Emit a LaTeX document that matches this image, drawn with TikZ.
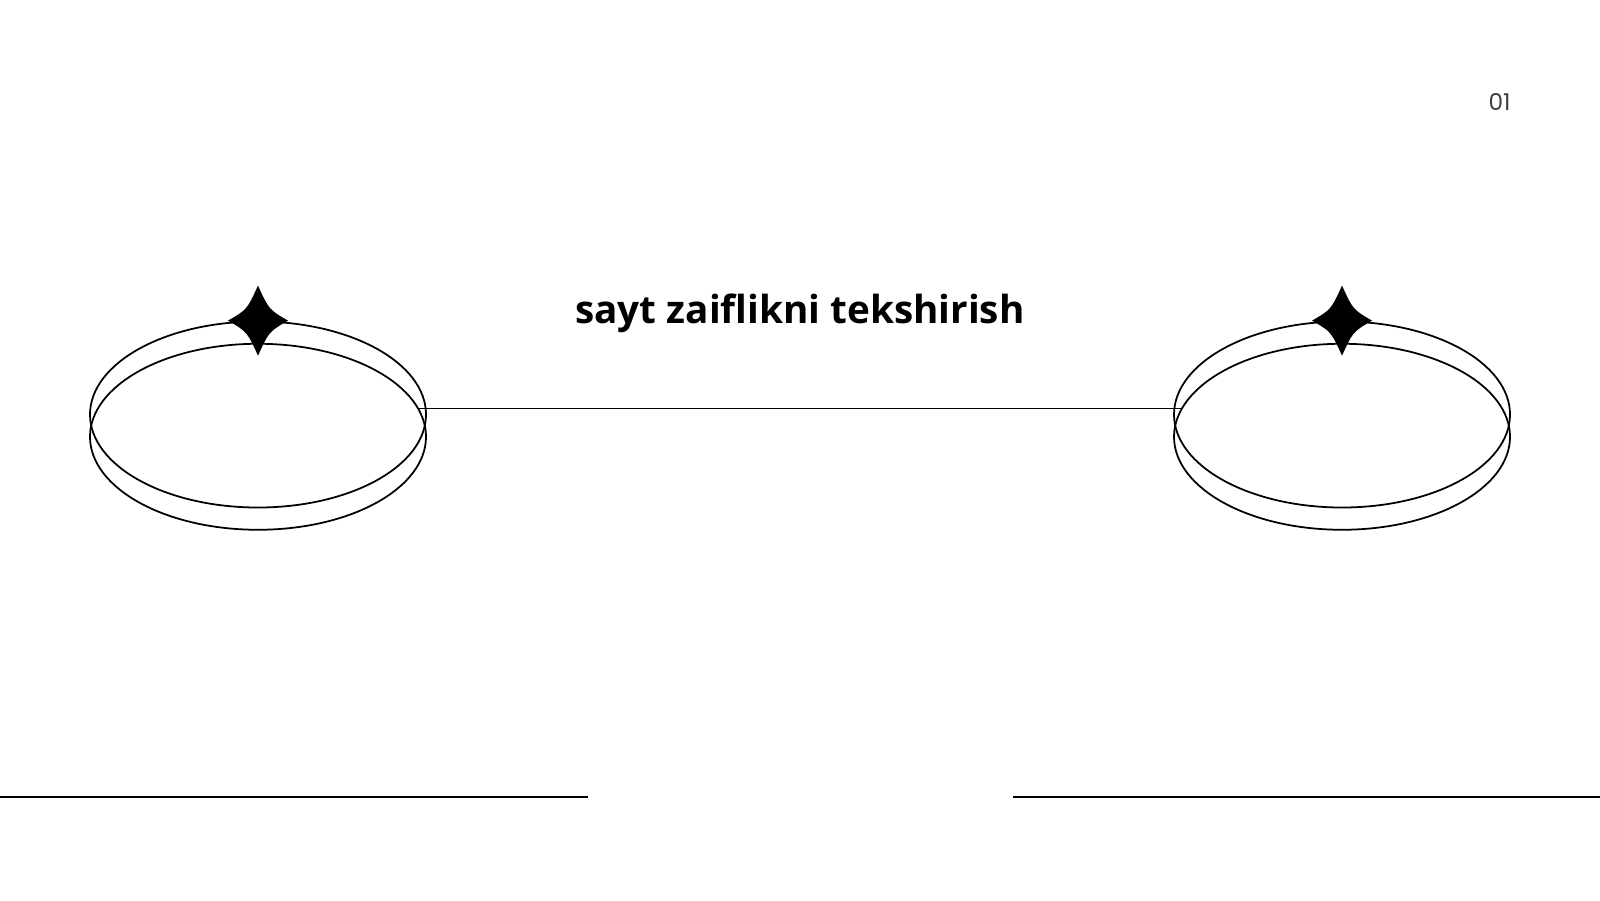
\documentclass[tikz,border=0pt]{standalone}
\usepackage{fontspec}
\setmainfont{Open Sans}
\newfontfamily\numfont{Poppins}
\usetikzlibrary{shapes.geometric,positioning}

\begin{document}
\begin{tikzpicture}[line width=0.5pt,
                ring/.style={ellipse,draw,inner sep=0pt,minimum width=3.36cm,minimum height=1.86cm},
                sparkle/.pic={\fill (0,0.35) .. controls (0.11,0.11) .. (0.30,0)
                                 .. controls (0.11,-0.11) .. (0,-0.35)
                                 .. controls (-0.11,-0.11) .. (-0.30,0)
                                 .. controls (-0.11,0.11) .. cycle;},
                title/.style={font=\fontsize{11}{13}\selectfont\bfseries,anchor=base,inner sep=0pt},
                pageno/.style={font=\numfont\fontsize{6.6}{8}\selectfont,text=black!75,anchor=base,inner sep=0pt}]
                \useasboundingbox (0,0) rectangle (16,-9);
                \node[ring] (lt) at (2.58,-4.145) {};
                \node[ring] (lb) [below=-1.655cm of lt] {};
                \node[ring] (rt) at (13.42,-4.145) {};
                \node[ring] (rb) [below=-1.655cm of rt] {};
                \pic at (lt.north) {sparkle};
                \pic at (rt.north) {sparkle};
                \node[title] (title) at (8,-3.23) {sayt zaiflikni tekshirish};
                \node[pageno] (page) at (14.995,-1.10) {01};
                \coordinate (bl0) at (0,-7.97);
                \coordinate (bl1) at (5.88,-7.97);
                \coordinate (br0) at (10.13,-7.97);
                \coordinate (br1) at (16,-7.97);

                \draw (lb.10) -- (rb.170);
                \draw[line width=0.55pt] (bl0) -- (bl1);
                \draw[line width=0.55pt] (br0) -- (br1);
\end{tikzpicture}
\end{document}
